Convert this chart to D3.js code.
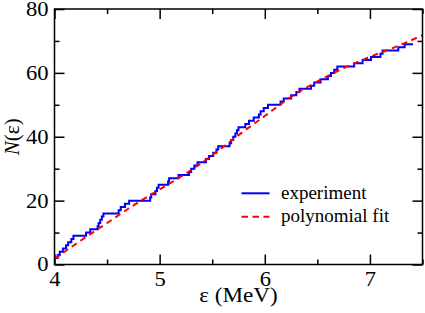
<!DOCTYPE html>
<html>
<head>
<meta charset="utf-8">
<script src="https://cdn.jsdelivr.net/npm/d3@7"></script>
<style>
  html, body { margin: 0; padding: 0; background: #fff; }
  svg { display: block; font-family: "Liberation Serif", "DejaVu Serif", serif; }
</style>
</head>
<body>
<svg id="chart" width="425" height="313"></svg>
<script>
// ---- data ----
const stepE = [4.00,4.03,4.05,4.08,4.11,4.13,4.16,4.18,4.30,4.34,4.41,4.42,4.435,4.45,4.465,4.61,4.63,4.67,4.71,
  4.91,4.92,4.96,4.975,4.99,5.08,5.09,5.18,5.28,5.30,5.33,5.36,5.44,5.47,5.51,5.54,5.557,5.665,5.68,5.70,5.72,
  5.735,5.75,5.815,5.85,5.895,5.944,5.96,5.99,6.03,6.15,6.18,6.25,6.30,6.33,6.44,6.47,6.53,6.60,6.63,6.66,6.69,
  6.85,6.93,7.01,7.10,7.12,7.27,7.33,7.41];
const stepN = [2,3,4,5,6,7,8,9,10,11,12,13,14,15,16,17,18,19,20,
  21,22,23,24,25,26,27,28,29,30,31,32,33,34,35,36,37,38,39,40,41,
  42,43,44,45,46,47,48,49,50,51,52,53,54,55,56,57,58,59,60,61,62,
  63,64,65,66,67,68,69,69];
const fitE = [4.0,4.25,4.5,4.75,5.0,5.25,5.5,5.75,6.0,6.25,6.5,6.75,7.0,7.25,7.5];
const fitN = [1.8,7.5,13.0,18.5,23.5,28.5,34.2,40.5,46.5,52.5,57.3,61.5,65.0,68.2,71.8];
const xMajor = [4,5,6,7];
const xMinor = [4.5,5.5,6.5,7.5];
const yMajor = [0,20,40,60,80];
const yMinor = [10,30,50,70];
const seriesNames = ["experiment", "polynomial fit"];
const seriesColors = ["#0000ff", "#ff0000"];

// ---- layout ----
const svg = d3.select("#chart");
const L = 54.5, R = 422.5, T = 9, B = 264.5;
const x = d3.scaleLinear().domain([4, 7.5]).range([L, R]);
const y = d3.scaleLinear().domain([0, 80]).range([B, T]);

svg.append("defs").append("clipPath").attr("id", "clip")
  .append("rect").attr("x", L).attr("y", T).attr("width", R - L).attr("height", B - T);

const tickFont = 20, stretch = 1.13;
function styleAxis(g) {
  g.attr("font-family", "'Liberation Serif', serif");
  g.select(".domain").remove();
  g.selectAll("line").attr("stroke", "#000").attr("stroke-width", 1.5);
  g.selectAll("text").attr("font-size", tickFont).attr("fill", "#000");
}
function stretchText(g) {
  g.selectAll("text").each(function () {
    const t = d3.select(this);
    const tx = +t.attr("x") || 0, ty = +t.attr("y") || 0;
    t.attr("x", 0).attr("y", 0).attr("transform", `translate(${tx},${ty}) scale(${stretch},1)`);
  });
}

// bottom axis (labels + major ticks inward)
svg.append("g").attr("transform", `translate(0,${B})`)
  .call(d3.axisBottom(x).tickValues(xMajor).tickFormat(d3.format("d")).tickSizeInner(-10).tickSizeOuter(0).tickPadding(7))
  .call(styleAxis).call(stretchText);
svg.append("g").attr("transform", `translate(0,${B})`)
  .call(d3.axisBottom(x).tickValues(xMinor).tickFormat("").tickSizeInner(-5).tickSizeOuter(0))
  .call(styleAxis);
// top axis (mirror ticks)
svg.append("g").attr("transform", `translate(0,${T})`)
  .call(d3.axisTop(x).tickValues(xMajor).tickFormat("").tickSizeInner(-10).tickSizeOuter(0))
  .call(styleAxis);
svg.append("g").attr("transform", `translate(0,${T})`)
  .call(d3.axisTop(x).tickValues(xMinor).tickFormat("").tickSizeInner(-5).tickSizeOuter(0))
  .call(styleAxis);
// left axis
svg.append("g").attr("transform", `translate(${L},0)`)
  .call(d3.axisLeft(y).tickValues(yMajor).tickFormat(d3.format("d")).tickSizeInner(-10).tickSizeOuter(0).tickPadding(6))
  .call(styleAxis).call(stretchText);
svg.append("g").attr("transform", `translate(${L},0)`)
  .call(d3.axisLeft(y).tickValues(yMinor).tickFormat("").tickSizeInner(-5).tickSizeOuter(0))
  .call(styleAxis);
// right axis
svg.append("g").attr("transform", `translate(${R},0)`)
  .call(d3.axisRight(y).tickValues(yMajor).tickFormat("").tickSizeInner(-10).tickSizeOuter(0))
  .call(styleAxis);
svg.append("g").attr("transform", `translate(${R},0)`)
  .call(d3.axisRight(y).tickValues(yMinor).tickFormat("").tickSizeInner(-5).tickSizeOuter(0))
  .call(styleAxis);

// ---- data lines ----
const plot = svg.append("g").attr("clip-path", "url(#clip)");
const stepData = stepE.map((e, i) => [e, stepN[i]]);
const fitData = fitE.map((e, i) => [e, fitN[i]]);

plot.append("path").datum(stepData)
  .attr("fill", "none").attr("stroke", seriesColors[0]).attr("stroke-width", 2)
  .attr("d", d3.line().x(d => x(d[0])).y(d => y(d[1])).curve(d3.curveStepAfter));
plot.append("path").datum(fitData)
  .attr("fill", "none").attr("stroke", seriesColors[1]).attr("stroke-width", 2)
  .attr("stroke-dasharray", "6,4.5")
  .attr("d", d3.line().x(d => x(d[0])).y(d => y(d[1])).curve(d3.curveMonotoneX));

// frame
svg.append("rect").attr("x", L).attr("y", T).attr("width", R - L).attr("height", B - T)
  .attr("fill", "none").attr("stroke", "#000").attr("stroke-width", 1.5);

// ---- axis titles ----
svg.append("text").attr("transform", `translate(${(L + R) / 2},302) scale(${stretch},1)`)
  .attr("text-anchor", "middle").attr("font-size", 20.5).text("ε (MeV)");
svg.append("text").attr("transform", `translate(19,${(T + B) / 2}) rotate(-90)`)
  .attr("text-anchor", "middle").attr("font-size", 21)
  .call(t => { t.append("tspan").attr("font-style", "italic").text("N"); t.append("tspan").text("(ε)"); });

// ---- legend ----
const leg = svg.append("g");
const legY = [193.3, 216.7];
seriesNames.forEach((name, i) => {
  leg.append("line").attr("x1", 241.5).attr("x2", 269.5).attr("y1", legY[i]).attr("y2", legY[i])
    .attr("stroke", seriesColors[i]).attr("stroke-width", 2)
    .attr("stroke-dasharray", i === 1 ? "6.5,4.5" : null);
  leg.append("text").attr("x", 281).attr("y", legY[i] + 5.3).attr("font-size", 19).text(name);
});
</script>
</body>
</html>
